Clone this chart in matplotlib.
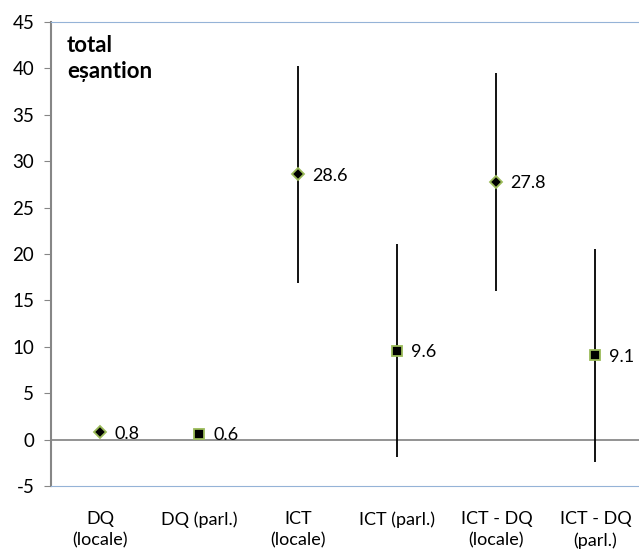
import matplotlib.pyplot as plt
import numpy as np

plt.rcParams['font.family'] = ['Lato', 'DejaVu Sans']
plt.rcParams['axes.unicode_minus'] = False

categories = ["DQ\n(locale)", "DQ (parl.)", "ICT\n(locale)", "ICT (parl.)",
              "ICT - DQ\n(locale)", "ICT - DQ\n(parl.)"]
values = [0.8, 0.6, 28.6, 9.6, 27.8, 9.1]
err_low = [0.0, 0.0, 16.9, -1.9, 16.0, -2.4]
err_high = [0.0, 0.0, 40.3, 21.1, 39.5, 20.5]
markers = ["D", "s", "D", "s", "D", "s"]
labels = ["0.8", "0.6", "28.6", "9.6", "27.8", "9.1"]


def main():
    fig = plt.figure(figsize=(6.39, 5.5), dpi=100)
    ax = fig.add_axes([51 / 639, 1 - 486 / 550, 1 - 51 / 639, (486 - 22) / 550])

    xs = np.arange(len(categories))
    # error bars
    for x, lo, hi in zip(xs, err_low, err_high):
        if hi > lo:
            ax.vlines(x, lo, hi, color="black", lw=1.3, zorder=2)

    ax.axhline(0, color="#808080", lw=1.2, zorder=1)

    for x, v, m, t in zip(xs, values, markers, labels):
        size = 6.5 if m == "D" else 7.5
        ax.plot(x, v, marker=m, ms=size, mfc="black", mec="#9BBB59",
                mew=1.3, ls="none", zorder=3)
        ax.annotate(t, (x, v), xytext=(10, -1), textcoords="offset points",
                    va="center", ha="left", fontsize=13)

    ax.set_xlim(-0.5, 5.44)
    ax.set_ylim(-5, 45)
    ax.set_yticks(np.arange(-5, 50, 5))
    ax.set_xticks(xs)
    ax.set_xticklabels(categories, fontsize=13, linespacing=1.38)
    ax.tick_params(axis="x", length=0, pad=18)
    ax.tick_params(axis="y", length=5, color="#868686", labelsize=13.5, pad=7)

    ax.spines["left"].set_color("#868686")
    ax.spines["left"].set_linewidth(1.5)
    ax.spines["top"].set_color("#95B3D7")
    ax.spines["bottom"].set_color("#95B3D7")
    ax.spines["right"].set_visible(False)

    ax.text(0.027, 0.972, "total\neșantion", transform=ax.transAxes,
            fontsize=16, fontweight="bold", va="top", ha="left",
            linespacing=1.3)

    fig.savefig("out.png", dpi=100)


if __name__ == "__main__":
    main()
